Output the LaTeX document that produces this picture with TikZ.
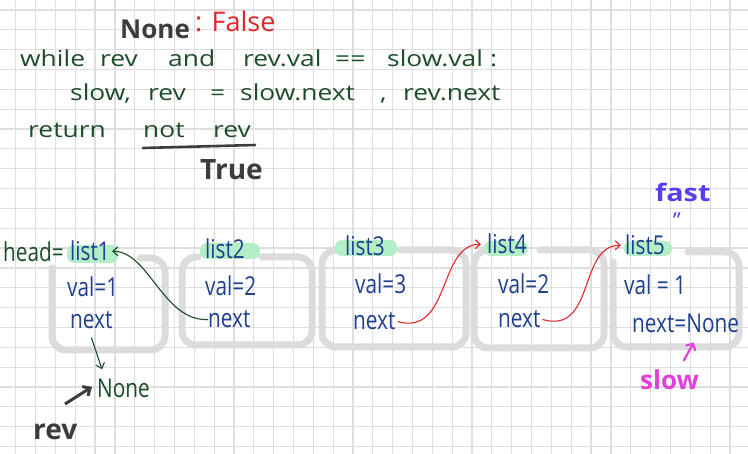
\documentclass[tikz,border=0pt]{standalone}
\usepackage{fontspec}
\setmainfont{Open Sans}
\newfontfamily\handfont[FakeStretch=1.2]{Open Sans}
\newfontfamily\fieldfont[FakeStretch=0.8]{Open Sans}
\usetikzlibrary{arrows.meta}

\definecolor{codegreen}{HTML}{1E4D2B}
\definecolor{nodeblue}{HTML}{1F3F8F}
\definecolor{falsered}{HTML}{E3262A}
\definecolor{inkgray}{HTML}{3C3C3C}
\definecolor{fastpurple}{HTML}{5B3CF2}
\definecolor{slowpink}{HTML}{E041D6}
\definecolor{markgreen}{HTML}{B4EEC6}
\definecolor{boxgray}{HTML}{DCDCDC}
\definecolor{gridgray}{HTML}{DEDEDE}

\begin{document}
\begin{tikzpicture}[x=1pt,y=-1pt,
    code/.style={anchor=base west,inner sep=0pt,text=codegreen,font=\handfont\fontsize{22}{22}\selectfont},
    field/.style={anchor=base west,inner sep=0pt,text=nodeblue,font=\fieldfont\fontsize{26}{26}\selectfont},
    ink/.style={anchor=base west,inner sep=0pt,text=inkgray,font=\bfseries\fontsize{26}{26}\selectfont},
    box/.style={draw=boxgray,line width=7pt,rounded corners=14pt,line cap=round},
    hlmark/.style={fill=markgreen,rounded corners=7pt},
    ptr/.style={-{Straight Barb[length=5pt,width=9pt]},line width=1.1pt}]
    \useasboundingbox (0,0) rectangle (748,454);
    \fill[white] (0,0) rectangle (748,454);
    % grid paper
    \foreach \i in {0,...,36}
        \draw[gridgray,line width=1.2pt] (15.7+19.84*\i,0) -- ++(0,454);
    \foreach \j in {0,...,22}
        \draw[gridgray,line width=1.2pt] (0,10+19.84*\j) -- ++(748,0);

    % code
    \node[ink] (none0) at (120,39) {None};
    \node[anchor=base west,inner sep=0pt,text=falsered,font=\fontsize{27}{27}\selectfont] (false) at (195,32) {: False};
    \node[code] (w1) at (20,67) {while};
    \node[code] (w2) at (100,67) {rev};
    \node[code] (w3) at (168,67) {and};
    \node[code] (w4) at (243,67) {rev.val};
    \node[code] (w5) at (335,67) {==};
    \node[code] (w6) at (387,67) {slow.val};
    \node[code] (w7) at (490,67) {:};
    \node[code] (s1) at (70,101) {slow,};
    \node[code] (s2) at (148,101) {rev};
    \node[code] (s3) at (210,101) {=};
    \node[code] (s4) at (240,101) {slow.next};
    \node[code] (s5) at (380,101) {,};
    \node[code] (s6) at (403,101) {rev.next};
    \node[code] (r1) at (28,138) {return};
    \node[code] (r2) at (143,138) {not};
    \node[code] (r3) at (213,138) {rev};
    \draw[inkgray,line width=2.6pt,line cap=round] ([yshift=-10pt]r2.base west) -- ([xshift=4pt,yshift=-7pt]r3.base east);
    \node[ink,font=\bfseries\fontsize{28}{28}\selectfont] (true) at (200,180) {True};

    % list nodes
    \draw[box] (140,258) -| (165,350) -| (52,268);
    \draw[box] (262,257) -| (312,345) -| (182,257) -- (198,257);
    \draw[box] (400,250) -| (466,347) -| (322,250) -- (333,250);
    \draw[box] (540,250) -| (604,348) -| (474,250) -- (482,250);
    \draw[box] (688,252) -| (739,347) -| (613,262);

    \fill[hlmark] (67,245) rectangle (118,263);
    \fill[hlmark] (200,243) rectangle (260,259);
    \fill[hlmark] (335,240) rectangle (397,256);
    \fill[hlmark] (484,241) rectangle (528,256);
    \fill[hlmark] (624,241) rectangle (672,256);

    \node[field,text=codegreen] (head) at (3,262) {head=};
    \node[field] (l1) at (70,261) {list1};
    \node[field] (v1) at (67,297) {val=1};
    \node[field] (nx1) at (70,329) {next};
    \node[field] (l2) at (205,259) {list2};
    \node[field] (v2) at (205,296) {val=2};
    \node[field] (nx2) at (208,328) {next};
    \node[field] (l3) at (345,256) {list3};
    \node[field] (v3) at (355,294) {val=3};
    \node[field] (nx3) at (353,330) {next};
    \node[field] (l4) at (487,254) {list4};
    \node[field] (v4) at (498,294) {val=2};
    \node[field] (nx4) at (498,328) {next};
    \node[field] (l5) at (625,255) {list5};
    \node[field] (v5) at (624,295) {val = 1};
    \node[field] (nx5) at (632,333) {next=None};

    \node[ink,text=fastpurple,font=\handfont\bfseries\fontsize{24}{24}\selectfont] (fast) at (655,202) {fast};
    \node[ink,text=fastpurple,font=\fontsize{22}{22}\selectfont] (ditto) at (673,229) {"};
    \node[ink,text=slowpink] (slow) at (640,390) {slow};
    \node[field,text=codegreen] (none) at (97,398) {None};
    \node[ink,font=\bfseries\fontsize{28}{28}\selectfont] (rev) at (33,440) {rev};
    \coordinate (revtail) at (65,404);

    % pointers
    \draw[ptr,codegreen] (nx2.west) .. controls +(-45,2) and +(37,0) .. ([xshift=2pt]l1.east);
    \draw[ptr,codegreen] ([yshift=-8pt]nx1.south) -- ([xshift=5pt,yshift=10pt]none.north west);
    \draw[ptr,falsered] ([xshift=2pt]nx3.east) .. controls +(53,15) and +(-43,0) .. ([xshift=-6pt]l4.west);
    \draw[ptr,falsered] ([xshift=2pt]nx4.east) .. controls +(53,15) and +(-43,0) .. ([xshift=-4pt]l5.west);
    \draw[-{Straight Barb[length=6pt,width=11pt]},inkgray,line width=3pt] (revtail) -- ([xshift=-5pt,yshift=2pt]none.west);
    \draw[-{Straight Barb[length=5pt,width=11pt]},slowpink,line width=2.2pt] ([xshift=14pt,yshift=9pt]slow.north) -- ([xshift=8pt,yshift=-9pt]nx5.south);
\end{tikzpicture}
\end{document}
